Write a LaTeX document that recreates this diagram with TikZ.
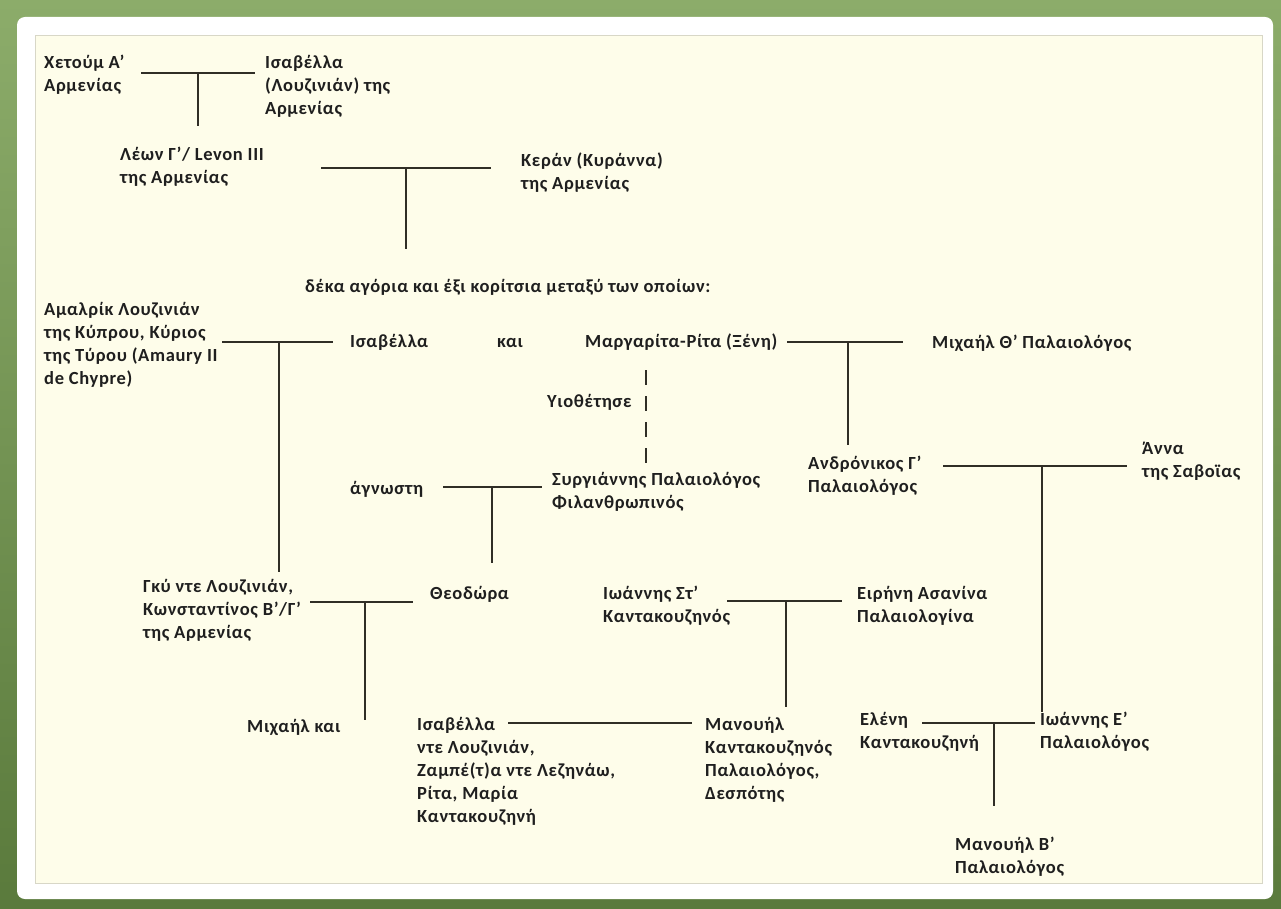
\documentclass[tikz,border=0pt]{standalone}
\usepackage{fontspec}
\setmainfont{Carlito}[LetterSpace=3.5]
\definecolor{framegreen}{RGB}{140,172,106}
\definecolor{framegreendk}{RGB}{90,122,60}
\definecolor{panelcream}{RGB}{254,253,234}
\definecolor{inkdark}{RGB}{48,46,38}

\begin{document}
\begin{tikzpicture}[x=1pt, y=-1pt,
  pers/.style={anchor=north west, inner sep=0pt, align=left, yshift=16.1pt, font=\fontsize{18.5}{23}\selectfont\bfseries, text=black!88, execute at begin node=\strut},
  tline/.style={draw=inkdark, line width=2.8pt},
  adopt/.style={tline, dash pattern=on 15pt off 11pt}
]
  \useasboundingbox (0,0) rectangle (1281,909);
  % frame
  \shade[top color=framegreen, bottom color=framegreendk] (0,0) rectangle (1281,909);
  \fill[white, rounded corners=8pt] (17,17) rectangle (1273,899);
  \fill[panelcream, draw=panelcream!85!black] (35,35) rectangle (1262,883);

  % people
  \node[pers] (hetoum) at (44,71) {Χετούμ Α’\\Αρμενίας};
  \node[pers] (isab1) at (265,71) {Ισαβέλλα\\(Λουζινιάν) της\\Αρμενίας};
  \node[pers] (leon) at (120,163) {Λέων Γ’/ Levon III\\της Αρμενίας};
  \node[pers] (keran) at (521,169) {Κεράν (Κυράννα)\\της Αρμενίας};
  \node[pers] (deka) at (305,292) {δέκα αγόρια και έξι κορίτσια μεταξύ των οποίων:};
  \node[pers] (amalric) at (44,318) {Αμαλρίκ Λουζινιάν\\της Κύπρου, Κύριος\\της Τύρου (Amaury II\\de Chypre)};
  \node[pers] (isab2) at (350,347) {Ισαβέλλα};
  \node[pers] (kai) at (497,347) {και};
  \node[pers] (marg) at (585,347) {Μαργαρίτα-Ρίτα (Ξένη)};
  \node[pers] (mich8) at (932,348) {Μιχαήλ Θ’ Παλαιολόγος};
  \node[pers] (yioth) at (547,407) {Υιοθέτησε};
  \node[pers] (agn) at (350,494) {άγνωστη};
  \node[pers] (syrg) at (552,488) {Συργιάννης Παλαιολόγος\\Φιλανθρωπινός};
  \node[pers] (andr) at (808,472) {Ανδρόνικος Γ’\\Παλαιολόγος};
  \node[pers] (anna) at (1142,458) {Άννα\\της Σαβοϊας};
  \node[pers] (gky) at (143,595) {Γκύ ντε Λουζινιάν,\\Κωνσταντίνος Β’/Γ’\\της Αρμενίας};
  \node[pers] (theod) at (430,599) {Θεοδώρα};
  \node[pers] (ioan6) at (603,602) {Ιωάννης Στ’\\Καντακουζηνός};
  \node[pers] (eir) at (857,602) {Ειρήνη Ασανίνα\\Παλαιολογίνα};
  \node[pers] (michkai) at (247,732) {Μιχαήλ και};
  \node[pers] (isab3) at (417,733) {Ισαβέλλα\\ντε Λουζινιάν,\\Ζαμπέ(τ)α ντε Λεζηνάω,\\Ρίτα, Μαρία\\Καντακουζηνή};
  \node[pers] (manouil) at (705,733) {Μανουήλ\\Καντακουζηνός\\Παλαιολόγος,\\Δεσπότης};
  \node[pers] (eleni) at (860,728) {Ελένη\\Καντακουζηνή};
  \node[pers] (ioan5) at (1040,728) {Ιωάννης Ε’\\Παλαιολόγος};
  \node[pers] (manouil2) at (955,853) {Μανουήλ Β’\\Παλαιολόγος};

  % marriages and descent
  \coordinate (m1l) at (141,73);  \coordinate (m1r) at (255,73);
  \coordinate (m1) at (198,73);   \coordinate (m1d) at (198,126);
  \draw[tline] (m1l) -- (m1r) (m1) -- (m1d);

  \coordinate (m2l) at (321,168); \coordinate (m2r) at (491,168);
  \coordinate (m2) at (406,168);  \coordinate (m2d) at (406,249);
  \draw[tline] (m2l) -- (m2r) (m2) -- (m2d);

  \coordinate (m3l) at (222,342); \coordinate (m3r) at (333,342);
  \coordinate (m3) at (279,342);  \coordinate (m3d) at (279,572);
  \draw[tline] (m3l) -- (m3r) (m3) -- (m3d);

  \coordinate (m4l) at (787,342); \coordinate (m4r) at (903,342);
  \coordinate (m4) at (848,342);  \coordinate (m4d) at (848,445);
  \draw[tline] (m4l) -- (m4r) (m4) -- (m4d);

  \coordinate (ad1) at (646,370); \coordinate (ad2) at (646,467);
  \draw[adopt] (ad1) -- (ad2);

  \coordinate (m5l) at (443,487); \coordinate (m5r) at (542,487);
  \coordinate (m5) at (492,487);  \coordinate (m5d) at (492,563);
  \draw[tline] (m5l) -- (m5r) (m5) -- (m5d);

  \coordinate (m6l) at (943,466); \coordinate (m6r) at (1127,466);
  \coordinate (m6) at (1042,466); \coordinate (m6d) at (1042,712);
  \draw[tline] (m6l) -- (m6r) (m6) -- (m6d);

  \coordinate (m7l) at (310,602); \coordinate (m7r) at (413,602);
  \coordinate (m7) at (365,602);  \coordinate (m7d) at (365,720);
  \draw[tline] (m7l) -- (m7r) (m7) -- (m7d);

  \coordinate (m8l) at (727,601); \coordinate (m8r) at (842,601);
  \coordinate (m8) at (786,601);  \coordinate (m8d) at (786,707);
  \draw[tline] (m8l) -- (m8r) (m8) -- (m8d);

  \coordinate (m9l) at (922,723); \coordinate (m9r) at (1035,723);
  \coordinate (m9) at (994,723);  \coordinate (m9d) at (994,806);
  \draw[tline] (m9l) -- (m9r) (m9) -- (m9d);

  \coordinate (m10l) at (508,723); \coordinate (m10r) at (692,723);
  \draw[tline] (m10l) -- (m10r);
\end{tikzpicture}
\end{document}
